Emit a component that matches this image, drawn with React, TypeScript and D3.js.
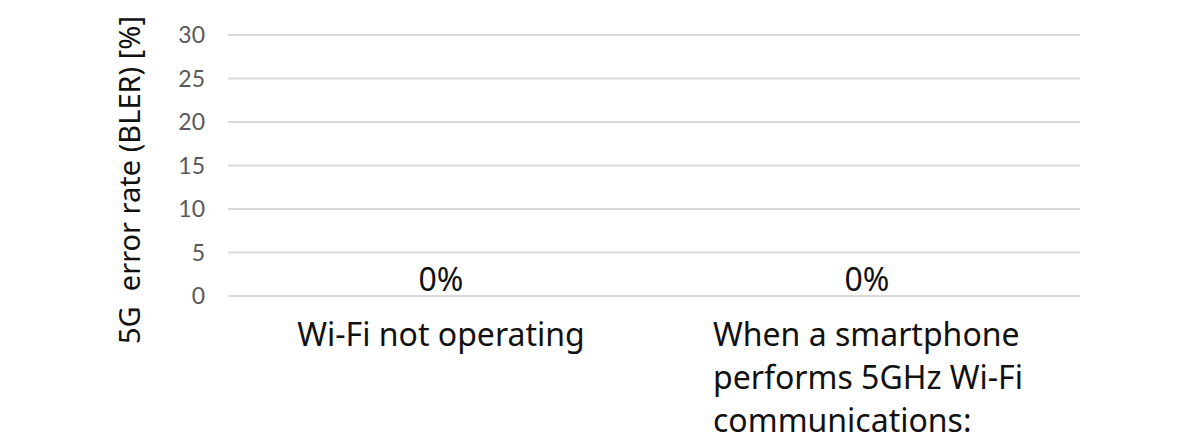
import React, { useEffect, useRef } from 'react';
import * as d3 from 'd3';

const categories = ['Wi-Fi not operating', 'When a smartphone performs 5GHz Wi-Fi communications:'];
const categoryLines = [['Wi-Fi not operating'], ['When a smartphone', 'performs 5GHz Wi-Fi', 'communications:']];
const values = [0, 0];
const yTicks = [0, 5, 10, 15, 20, 25, 30];
const yLabel = '5G\u00a0 error rate (BLER) [%]';

const W = 1200;
const H = 440;

const App: React.FC = () => {
  const svgRef = useRef<SVGSVGElement>(null);

  useEffect(() => {
    if (!svgRef.current) return;
    const svg = d3.select(svgRef.current);
    svg.selectAll('*').remove();

    const x = d3.scaleBand<string>().domain(categories).range([228, 1080]).paddingInner(0.5).paddingOuter(0.25);
    const y = d3.scaleLinear().domain([0, 30]).range([296, 35]);

    // gridlines
    svg.append('g')
      .selectAll('line')
      .data(yTicks)
      .enter()
      .append('line')
      .attr('x1', 228)
      .attr('x2', 1080)
      .attr('y1', d => y(d))
      .attr('y2', d => y(d))
      .attr('stroke', '#d9d9d9')
      .attr('stroke-width', 2);

    // tick labels
    svg.append('g')
      .selectAll('text')
      .data(yTicks)
      .enter()
      .append('text')
      .attr('x', 205)
      .attr('y', d => y(d))
      .attr('dy', '0.36em')
      .attr('text-anchor', 'end')
      .style('font-family', 'Lato, "Open Sans", sans-serif')
      .style('font-size', '23px')
      .style('fill', '#595959')
      .text(d => String(d));

    // bars (zero height)
    svg.append('g')
      .selectAll('rect')
      .data(values)
      .enter()
      .append('rect')
      .attr('x', (d, i) => x(categories[i]) as number)
      .attr('width', x.bandwidth())
      .attr('y', d => y(d))
      .attr('height', d => y(0) - y(d))
      .attr('fill', '#4472c4');

    // value labels
    svg.append('g')
      .selectAll('text')
      .data(values)
      .enter()
      .append('text')
      .attr('x', (d, i) => (x(categories[i]) as number) + x.bandwidth() / 2)
      .attr('y', d => y(d) - 5)
      .attr('text-anchor', 'middle')
      .style('font-family', '"Noto Sans", sans-serif')
      .style('font-size', '32px')
      .style('fill', '#111')
      .text(d => `${d}%`);

    // category labels
    const catG = svg.append('g');
    categoryLines.forEach((lines, i) => {
      const cx = (x(categories[i]) as number) + x.bandwidth() / 2;
      const t = catG.append('text')
        .style('font-family', '"Noto Sans", sans-serif')
        .style('font-size', '32px')
        .style('fill', '#111');
      if (lines.length === 1) {
        t.attr('x', cx).attr('y', 346).attr('text-anchor', 'middle').text(lines[0]);
      } else {
        lines.forEach((ln, j) => {
          t.append('tspan').attr('x', 713).attr('y', 346 + j * 43).text(ln);
        });
      }
    });

    // y-axis title
    svg.append('text')
      .attr('transform', `translate(140,${180}) rotate(-90)`)
      .attr('text-anchor', 'middle')
      .style('font-family', '"Noto Sans", sans-serif')
      .style('font-size', '29px')
      .style('fill', '#111')
      .text(yLabel);
  }, []);

  return (
    <div style={{ position: 'absolute', left: 0, top: 0, width: W, height: H, background: '#fff' }}>
      <svg ref={svgRef} width={W} height={H} style={{ display: 'block' }} />
    </div>
  );
};

export default App;
